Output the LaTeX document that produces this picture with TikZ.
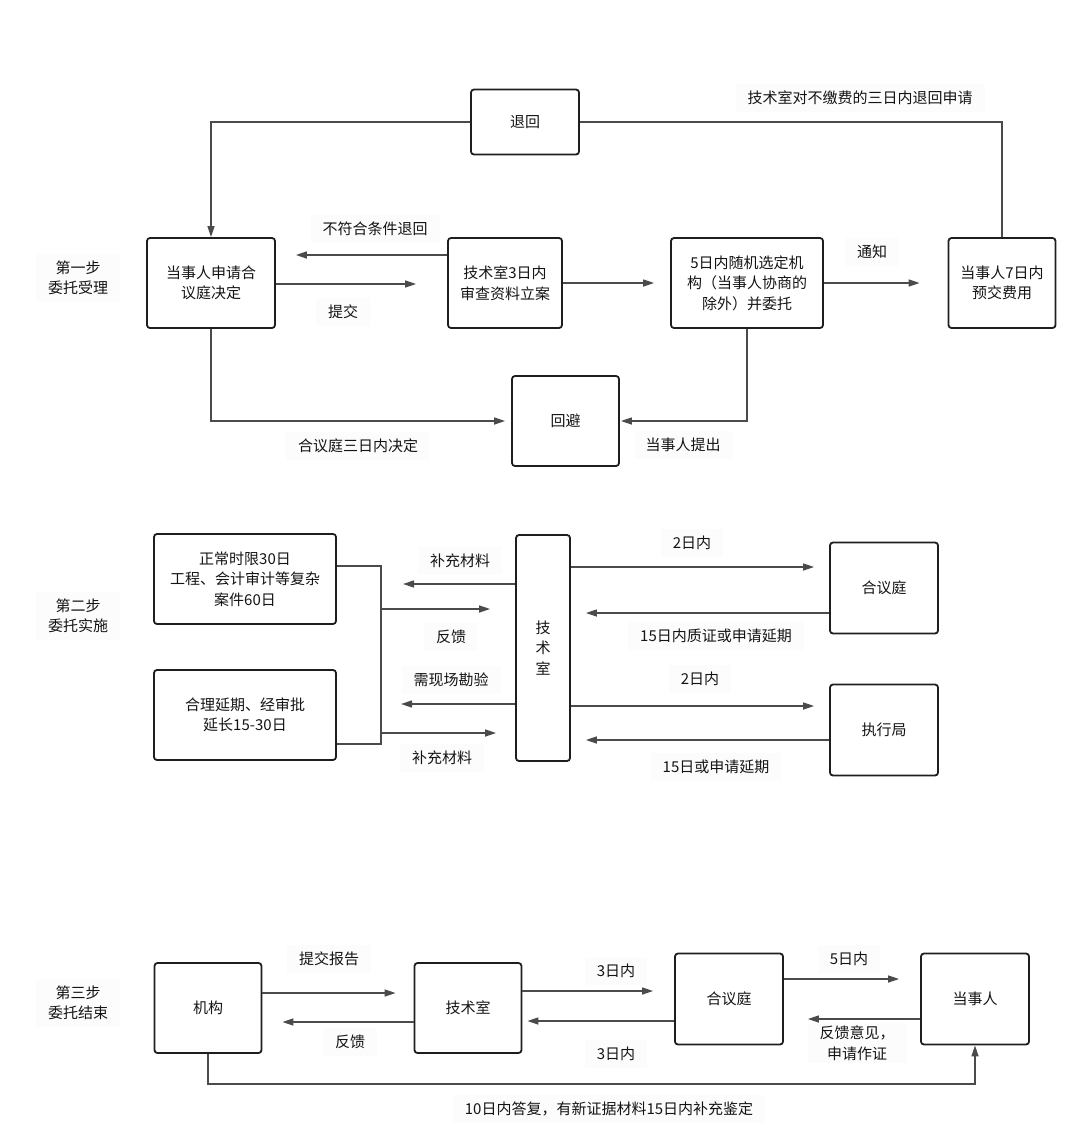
\documentclass[tikz,border=0pt]{standalone}
\usepackage{fontspec}
\setmainfont{Noto Sans CJK SC}
\usetikzlibrary{arrows.meta}

\begin{document}
\begin{tikzpicture}[x=1pt, y=-1pt,
		every node/.style={font=\fontsize{15}{20.5}\selectfont, text=textdark},
		box/.style={draw=boxline, line width=1.8pt, rounded corners=3pt, align=center, inner sep=0pt},
		lbl/.style={fill=labelbg, align=center, inner xsep=12pt, inner ysep=7pt},
		link/.style={draw=linkgray, line width=1.5pt},
		arr/.style={link, -{Triangle[length=11pt,width=7pt]}}]
		% Defines colors to match the image
		\definecolor{boxline}{RGB}{30, 30, 30}    % box outlines
		\definecolor{linkgray}{RGB}{75, 75, 75}   % connectors
		\definecolor{labelbg}{RGB}{252, 252, 252} % faint label boxes
		\definecolor{textdark}{RGB}{20, 20, 20}
		
		% Page frame
		\useasboundingbox (0,0) rectangle (1080,1144);
		
		% --- Step one ---
		\node[lbl] (step1) at (78,278) {第一步\\委托受理};
		\node[box, minimum width=108, minimum height=65] (back) at (525,122) {退回};
		\node[box, minimum width=128, minimum height=90] (apply) at (211,283) {当事人申请合\\议庭决定};
		\node[box, minimum width=114, minimum height=90] (review) at (505,283) {技术室3日内\\审查资料立案};
		\node[box, minimum width=152, minimum height=90] (pick) at (747,283) {5日内随机选定机\\构（当事人协商的\\除外）并委托};
		\node[box, minimum width=107, minimum height=90] (pay) at (1002,283) {当事人7日内\\预交费用};
		\node[box, minimum width=107, minimum height=90] (avoid) at (565.5,421) {回避};
		
		% Labels of step one
		\node[lbl] (nopay) at (860,98) {技术室对不缴费的三日内退回申请};
		\node[lbl] (reject) at (375,229) {不符合条件退回};
		\node[lbl] (submit) at (343,312) {提交};
		\node[lbl] (notify) at (872,252) {通知};
		\node[lbl] (decide) at (358,446) {合议庭三日内决定};
		\node[lbl] (raise) at (683,445) {当事人提出};
		
		% Connectors of step one
		\draw[arr] (back.west) -| (apply.north);
		\draw[link] (pay.north) |- (back.east);
		\draw[arr, shorten >=20pt] (review.west |- 0,255) -- (apply.east |- 0,255);
		\draw[arr, shorten >=31pt] (apply.east |- 0,284) -- (review.west |- 0,284);
		\draw[arr, shorten >=16pt] (review.east) -- (pick.west);
		\draw[arr, shorten >=28pt] (pick.east) -- (pay.west);
		\draw[arr, shorten >=6pt] (apply.south) |- (avoid.west);
		\draw[arr, shorten >=1pt] (pick.south) |- (avoid.east);
		
		% --- Step two ---
		\node[lbl] (step2) at (78,616) {第二步\\委托实施};
		\node[box, minimum width=182, minimum height=90] (normal) at (245,579) {正常时限30日\\工程、会计审计等复杂\\案件60日};
		\node[box, minimum width=182, minimum height=90] (extend) at (245,715) {合理延期、经审批\\延长15-30日};
		\node[box, minimum width=54, minimum height=226, text width=20] (tech) at (543,648) {技\\术\\室};
		\node[box, minimum width=108, minimum height=91] (court) at (884,588) {合议庭};
		\node[box, minimum width=108, minimum height=91] (exec) at (884,730) {执行局};
		
		% Labels of step two
		\node[lbl] (more1) at (460,561) {补充材料};
		\node[lbl] (reply1) at (451,637) {反馈};
		\node[lbl] (survey) at (451,680) {需现场勘验};
		\node[lbl] (more2) at (442,758) {补充材料};
		\node[lbl] (days2a) at (692,543) {2日内};
		\node[lbl] (cross) at (716,636) {15日内质证或申请延期};
		\node[lbl] (days2b) at (700,679) {2日内};
		\node[lbl] (delay) at (716,767) {15日或申请延期};
		
		% Bracket joining the two time limits
		\coordinate (bt) at (381,566);
		\coordinate (bb) at (381,744);
		\draw[link] (normal.east |- bt) -- (bt) -- (bb) -- (extend.east |- bb);
		
		% Connectors of step two
		\draw[arr, shorten >=22pt] (tech.west |- 0,584) -- (bt |- 0,584);
		\draw[arr, shorten >=25pt] (bt |- 0,609) -- (tech.west |- 0,609);
		\draw[arr, shorten >=20pt] (tech.west |- 0,704) -- (bt |- 0,704);
		\draw[arr, shorten >=19pt] (bt |- 0,733) -- (tech.west |- 0,733);
		\draw[arr, shorten >=15pt] (tech.east |- 0,567) -- (court.west |- 0,567);
		\draw[arr, shorten >=15pt] (court.west |- 0,613) -- (tech.east |- 0,613);
		\draw[arr, shorten >=15pt] (tech.east |- 0,706) -- (exec.west |- 0,706);
		\draw[arr, shorten >=15pt] (exec.west |- 0,740) -- (tech.east |- 0,740);
		
		% --- Step three ---
		\node[lbl] (step3) at (78,1003) {第三步\\委托结束};
		\node[box, minimum width=107, minimum height=90] (org) at (208,1008) {机构};
		\node[box, minimum width=107, minimum height=90] (tech3) at (468,1008) {技术室};
		\node[box, minimum width=108, minimum height=91] (court3) at (729,999) {合议庭};
		\node[box, minimum width=108, minimum height=91] (party) at (975,999) {当事人};
		
		% Labels of step three
		\node[lbl] (report) at (329,959) {提交报告};
		\node[lbl] (reply2) at (350,1042) {反馈};
		\node[lbl] (days3a) at (616,971) {3日内};
		\node[lbl] (days3b) at (616,1054) {3日内};
		\node[lbl] (days5) at (849,959) {5日内};
		\node[lbl, inner ysep=3pt] (opinion) at (857,1043) {反馈意见，\\申请作证};
		\node[lbl] (answer) at (609,1109) {10日内答复，有新证据材料15日内补充鉴定};
		
		% Connectors of step three
		\draw[arr, shorten >=18pt] (org.east |- 0,993) -- (tech3.west |- 0,993);
		\draw[arr, shorten >=20pt] (tech3.west |- 0,1022) -- (org.east |- 0,1022);
		\draw[arr, shorten >=21pt] (tech3.east |- 0,991) -- (court3.west |- 0,991);
		\draw[arr, shorten >=5pt] (court3.west |- 0,1021) -- (tech3.east |- 0,1021);
		\draw[arr, shorten >=21pt] (court3.east |- 0,979) -- (party.west |- 0,979);
		\draw[arr, shorten >=24pt] (party.west |- 0,1019) -- (court3.east |- 0,1019);
		\draw[arr] (org.south) -- (org.south |- 0,1084) -| (party.south);
		
	\end{tikzpicture}
\end{document}
